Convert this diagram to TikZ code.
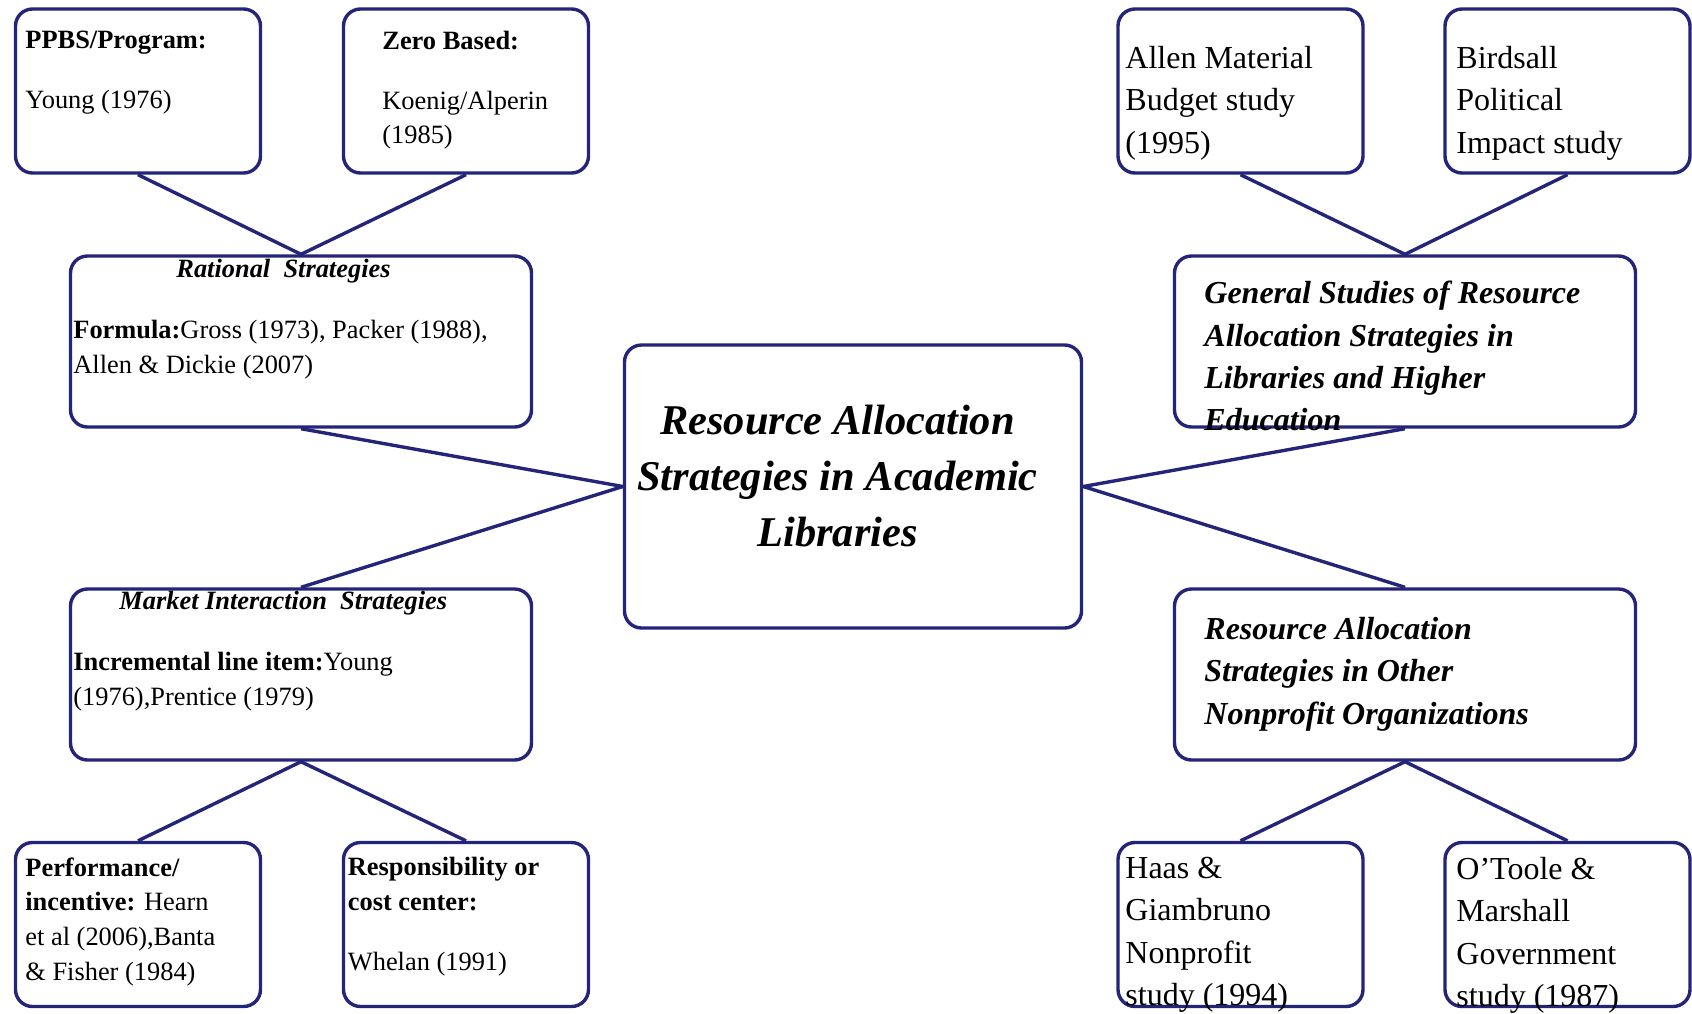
\documentclass[tikz,border=0pt]{standalone}
\usepackage{fontspec}
\setmainfont{Liberation Serif}
\usetikzlibrary{positioning}

\definecolor{navy}{RGB}{36,36,120}

\begin{document}
\begin{tikzpicture}[
    x=0.5pt, y=-0.5pt,
    box/.style={draw=navy, line width=1.7pt, rounded corners=8.5pt, fill=white, minimum width=122.5pt, minimum height=82pt},
    wide/.style={box, minimum width=230.5pt, minimum height=85.5pt},
    hub/.style={box, minimum width=228.5pt, minimum height=141.5pt},
    link/.style={draw=navy, line width=1.7pt},
    txt/.style={anchor=north west, inner sep=0pt, align=left, font=\fontsize{13.2}{17.4}\selectfont},
    txtbig/.style={anchor=north west, inner sep=0pt, align=left, font=\fontsize{16}{21.1}\selectfont},
    headtxt/.style={txt, font=\fontsize{13.2}{17.4}\selectfont\bfseries\itshape},
    bigital/.style={txtbig, font=\fontsize{16}{21.1}\selectfont\bfseries\itshape},
    hubtxt/.style={anchor=north, inner sep=0pt, align=center, font=\fontsize{21.2}{27.8}\selectfont\bfseries\itshape}
]
\useasboundingbox (0,0) rectangle (1692,1013);

% left branch
\node[box] (ppbs) at (138,91) {};
\node[box] (zero) at (466,91) {};
\node[wide] (rational) at (301,341.5) {};
\node[hub] (hub) at (853,486.5) {};
\node[wide] (market) at (301,674.5) {};
\node[box] (perf) at (138,924.5) {};
\node[box] (resp) at (466,924.5) {};

% right branch
\node[box] (allen) at (1240.5,91) {};
\node[box] (birdsall) at (1567.5,91) {};
\node[wide] (general) at (1405,341.5) {};
\node[wide] (other) at (1405,674.5) {};
\node[box] (haas) at (1240.5,924.5) {};
\node[box] (otoole) at (1567.5,924.5) {};

\draw[link] (ppbs.south) -- (rational.north);
\draw[link] (zero.south) -- (rational.north);
\draw[link] (rational.south) -- (hub.west);
\draw[link] (market.north) -- (hub.west);
\draw[link] (market.south) -- (perf.north);
\draw[link] (market.south) -- (resp.north);
\draw[link] (allen.south) -- (general.north);
\draw[link] (birdsall.south) -- (general.north);
\draw[link] (general.south) -- (hub.east);
\draw[link] (other.north) -- (hub.east);
\draw[link] (other.south) -- (haas.north);
\draw[link] (other.south) -- (otoole.north);

\node[txt] (ppbstxt) at (25,30.4) {\textbf{PPBS/Program:}\\[12.6pt]Young (1976)};
\node[txt] (zerotxt) at (382,30.4) {\textbf{Zero Based:}\\[12.6pt]Koenig/Alperin\\(1985)};
\node[headtxt] (rathead) at (176,259) {Rational\ \ Strategies};
\node[txt] (rattxt) at (73,320) {\textbf{Formula:}Gross (1973), Packer (1988),\\Allen \& Dickie (2007)};
\node[headtxt] (markhead) at (119,590.5) {Market Interaction\ \ Strategies};
\node[txt] (marktxt) at (73,652) {\textbf{Incremental line item:}Young\\(1976),Prentice (1979)};
\node[txt] (perftxt) at (25,857) {\textbf{Performance/}\\\textbf{incentive:} Hearn\\et al (2006),Banta\\\& Fisher (1984)};
\node[txt] (resptxt) at (347.5,857) {\textbf{Responsibility or}\\\textbf{cost center:}\\[12.6pt]Whelan (1991)};

\node[hubtxt] (hubtxt) at (837.5,405) {Resource Allocation\\Strategies in Academic\\Libraries};

\node[txtbig] (allentxt) at (1125,46) {Allen Material\\Budget study\\(1995)};
\node[txtbig] (birdtxt) at (1456,46) {Birdsall\\Political\\Impact study};
\node[bigital] (gentxt) at (1204,281) {General Studies of Resource\\Allocation Strategies in\\Libraries and Higher\\Education};
\node[bigital] (othertxt) at (1204,617) {Resource Allocation\\Strategies in Other\\Nonprofit Organizations};
\node[txtbig] (haastxt) at (1125,857) {Haas \&\\Giambruno\\Nonprofit\\study (1994)};
\node[txtbig] (otooletxt) at (1456,857) {O’Toole \&\\Marshall\\Government\\study (1987)};

\end{tikzpicture}
\end{document}
